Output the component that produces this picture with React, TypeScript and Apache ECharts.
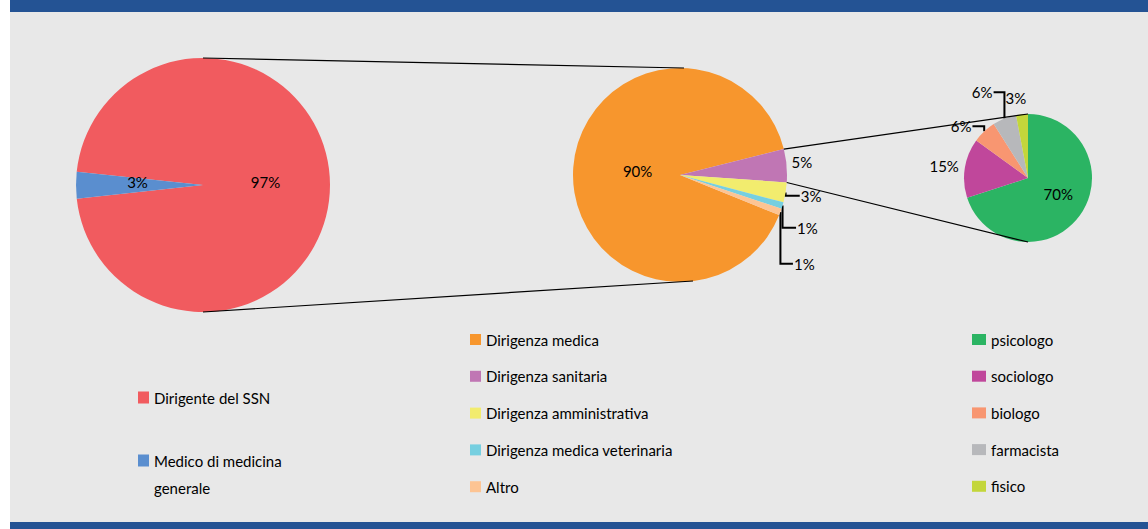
import React, { useEffect, useRef } from 'react';
import * as echarts from 'echarts';

// ---- Data ----
const personaleNames = ['Dirigente del SSN', 'Medico di medicina generale'];
const personaleValues = [96.6, 3.4];
const personaleColors = ['#F15B5F', '#5A8ECF'];

const dirigenzaNames = [
  'Dirigenza medica',
  'Dirigenza sanitaria',
  'Dirigenza amministrativa',
  'Dirigenza medica veterinaria',
  'Altro',
];
const dirigenzaValues = [90, 5, 3, 1, 1];
const dirigenzaColors = ['#F7962D', '#C076B4', '#F2EC6E', '#76CFE0', '#FDC493'];

const sanitariaNames = ['psicologo', 'sociologo', 'biologo', 'farmacista', 'fisico'];
const sanitariaValues = [70, 15, 6, 6, 3];
const sanitariaColors = ['#2BB463', '#C0479B', '#F89671', '#B7B8BB', '#C3D63B'];

// ---- Layout ----
const W = 1148;
const H = 529;
const LEFT = { cx: 203, cy: 185, r: 127, start: 174 };
const MID = { cx: 680, cy: 175, r: 107, start: 338 };
const RIGHT = { cx: 1028, cy: 178, r: 64, start: 90 };
const FONT = 'Lato, "Open Sans", sans-serif';

// label nudges (dx, dy) per slice, slices without leader line, slices with elbow leader
const LEFT_NUDGE = [[-4, -3], [1, -3]];
const MID_NUDGE = [[14, 0], [-9, -3], [0, 2], [-3, 17], [-5, 36]];
const MID_NO_LINE = [1];
const MID_ELBOW = [2, 3, 4];
const RIGHT_NUDGE = [[2, -5], [8, -1], [11, -14], [18, -31], [16, -8]];
const RIGHT_NO_LINE = [1, 4];
const RIGHT_ELBOW = [2, 3];

const rad = (d: number) => (d * Math.PI) / 180;
const pt = (p: { cx: number; cy: number; r: number }, a: number) => [
  p.cx + p.r * Math.cos(rad(a)),
  p.cy - p.r * Math.sin(rad(a)),
];

const pctFmt = (p: any) => Math.round(p.percent) + '%';

function buildData(
  names: string[],
  values: number[],
  colors: string[],
  innerIdx: number[],
  noLine: number[]
) {
  return names.map((n, i) => ({
    name: n,
    value: values[i],
    itemStyle: { color: colors[i] },
    label: innerIdx.includes(i) ? { position: 'inner' } : { position: 'outside' },
    labelLine: { show: !innerIdx.includes(i) && !noLine.includes(i) },
  }));
}

const layoutFn = (nudge: number[][], elbow: number[]) => (p: any) => {
  const t = nudge[p.dataIndex] || [0, 0];
  const out: any = { dx: t[0], dy: t[1] };
  if (elbow.includes(p.dataIndex) && p.labelLinePoints && p.labelRect) {
    const a = p.labelLinePoints[0];
    const r = p.labelRect;
    const lx = r.x + t[0];
    const cy = r.y + t[1] + r.height / 2;
    const toRight = lx > a[0];
    const ex = toRight ? lx - 1 : lx + r.width + 1;
    out.labelLinePoints = [
      [a[0], a[1]],
      [a[0], cy],
      [ex, cy],
    ];
  }
  return out;
};

export default function App() {
  const ref = useRef<HTMLDivElement>(null);
  useEffect(() => {
    if (!ref.current) return;
    const chart = echarts.init(ref.current, undefined, { renderer: 'svg' });

    const dSum = dirigenzaValues.reduce((a, b) => a + b, 0);
    const a1 = MID.start - (360 * dirigenzaValues[0]) / dSum;
    const a2 = a1 - (360 * dirigenzaValues[1]) / dSum;
    const p1 = pt(MID, a1);
    const p2 = pt(MID, a2);

    const lineStyle = { stroke: '#000', lineWidth: 1.2 };
    const connectors = [
      [LEFT.cx, LEFT.cy - LEFT.r, MID.cx + 4, MID.cy - MID.r],
      [LEFT.cx, LEFT.cy + LEFT.r, MID.cx + 13, MID.cy + MID.r - 1],
      [p1[0], p1[1], RIGHT.cx, RIGHT.cy - RIGHT.r],
      [p2[0], p2[1], RIGHT.cx, RIGHT.cy + RIGHT.r],
    ].map((c) => ({
      type: 'line',
      z: 100,
      silent: true,
      shape: { x1: c[0], y1: c[1], x2: c[2], y2: c[3] },
      style: lineStyle,
    }));

    const pieBase = {
      type: 'pie',
      clockwise: true,
      animation: false,
      silent: true,
      emphasis: { disabled: true },
      avoidLabelOverlap: true,
      itemStyle: { borderWidth: 0 },
      label: {
        formatter: pctFmt,
        color: '#000',
        fontSize: 15,
        fontFamily: FONT,
      },
      labelLine: {
        length: 8,
        length2: 6,
        lineStyle: { color: '#000', width: 2 },
      },
    };

    const legendText = { color: '#000', fontSize: 15, fontFamily: FONT };

    chart.setOption({
      animation: false,
      backgroundColor: '#ffffff',
      graphic: [
        { type: 'rect', z: -10, shape: { x: 10, y: 0, width: W - 10, height: H }, style: { fill: '#E8E8E8' } },
        { type: 'rect', z: -9, shape: { x: 10, y: 0, width: W - 10, height: 12 }, style: { fill: '#245394' } },
        { type: 'rect', z: -9, shape: { x: 10, y: 522, width: W - 10, height: 7 }, style: { fill: '#245394' } },
        ...connectors,
      ],
      legend: [
        {
          data: [personaleNames[0]],
          left: 138,
          top: 390,
          padding: 0,
          icon: 'rect',
          itemWidth: 11,
          itemHeight: 12,
          textStyle: legendText,
        },
        {
          data: [personaleNames[1]],
          left: 138,
          top: 447,
          padding: 0,
          icon: 'path://M0,0H11V12H0Z M0,39H0.01V39.01H0Z',
          itemWidth: 11,
          itemHeight: 39,
          formatter: () => 'Medico di medicina\ngenerale',
          textStyle: { ...legendText, lineHeight: 27 },
        },
        {
          data: dirigenzaNames,
          orient: 'vertical',
          left: 470,
          top: 332,
          padding: 0,
          icon: 'rect',
          itemWidth: 11,
          itemHeight: 11,
          itemGap: 21.8,
          textStyle: { ...legendText, lineHeight: 14 },
        },
        {
          data: sanitariaNames,
          orient: 'vertical',
          left: 972,
          top: 332,
          padding: 0,
          icon: 'rect',
          itemWidth: 14,
          itemHeight: 11,
          itemGap: 21.7,
          textStyle: { ...legendText, lineHeight: 15 },
        },
      ],
      series: [
        {
          ...pieBase,
          name: 'personale',
          center: [LEFT.cx, LEFT.cy],
          radius: LEFT.r,
          startAngle: LEFT.start,
          labelLayout: layoutFn(LEFT_NUDGE, []),
          data: buildData(personaleNames, personaleValues, personaleColors, [0, 1], []),
        },
        {
          ...pieBase,
          name: 'dirigenza',
          center: [MID.cx, MID.cy],
          radius: MID.r,
          startAngle: MID.start,
          labelLayout: layoutFn(MID_NUDGE, MID_ELBOW),
          data: buildData(dirigenzaNames, dirigenzaValues, dirigenzaColors, [0], MID_NO_LINE),
        },
        {
          ...pieBase,
          name: 'sanitaria',
          center: [RIGHT.cx, RIGHT.cy],
          radius: RIGHT.r,
          startAngle: RIGHT.start,
          labelLayout: layoutFn(RIGHT_NUDGE, RIGHT_ELBOW),
          data: buildData(sanitariaNames, sanitariaValues, sanitariaColors, [0], RIGHT_NO_LINE),
        },
      ],
    });
    return () => chart.dispose();
  }, []);

  return (
    <div
      ref={ref}
      style={{ position: 'absolute', left: 0, top: 0, width: W, height: H }}
    />
  );
}
